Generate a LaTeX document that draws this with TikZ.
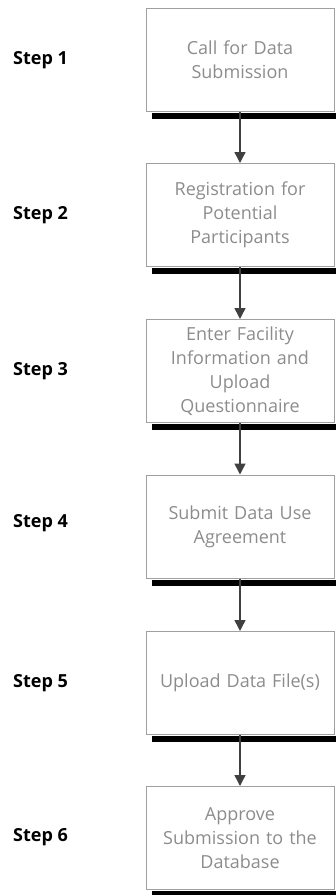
\documentclass[tikz,border=0pt]{standalone}
\usepackage{fontspec}
\setmainfont{Open Sans}
\usetikzlibrary{arrows.meta}
\definecolor{boxline}{HTML}{A0A0A0}
\definecolor{boxtext}{HTML}{8C8C8C}
\definecolor{arrowline}{HTML}{404040}
\tikzset{
  stepbox/.style={draw=boxline, line width=1pt, minimum width=188pt, minimum height=103pt,
    text width=180pt, align=center, text=boxtext, inner sep=0pt,
    font=\fontsize{18}{24}\selectfont},
  steplabel/.style={anchor=west, inner sep=0pt, font=\fontsize{18}{20}\selectfont\bfseries},
  flow/.style={draw=arrowline, line width=1.5pt, -{Triangle[width=11pt,length=11pt]}}
}

\begin{document}
\begin{tikzpicture}[x=1pt,y=-1pt]
    \useasboundingbox (0,0) rectangle (336,895);
    \node[stepbox](B1) at (240,60){Call for Data\\Submission};
    \node[stepbox](B2) at (240,215){Registration for\\Potential\\Participants};
    \node[stepbox](B3) at (240,371){Enter Facility\\Information and\\Upload\\Questionnaire};
    \node[stepbox](B4) at (240,526.5){Submit Data Use\\Agreement};
    \node[stepbox](B5) at (240,683){Upload Data File(s)};
    \node[stepbox](B6) at (240,838){Approve\\Submission to the\\Database};
    \node[steplabel](S1) at (13,60){Step 1};
    \node[steplabel](S2) at (13,215){Step 2};
    \node[steplabel](S3) at (13,371){Step 3};
    \node[steplabel](S4) at (13,523){Step 4};
    \node[steplabel](S5) at (13,683){Step 5};
    \node[steplabel](S6) at (13,837){Step 6};
    \foreach \i in {1,...,6}
        \fill (B\i.south west) ++(6,1) rectangle ++(188,6);
    \foreach \i/\j in {1/2,2/3,3/4,4/5,5/6}
        \draw[flow] (B\i.south) -- (B\j.north);
\end{tikzpicture}
\end{document}
